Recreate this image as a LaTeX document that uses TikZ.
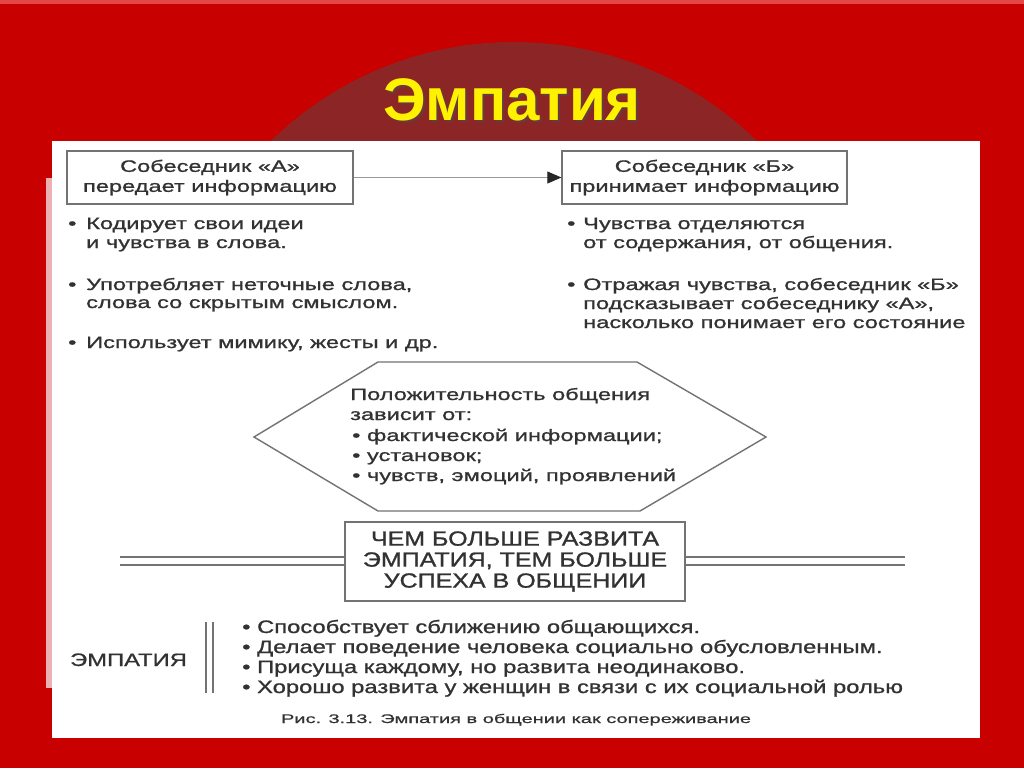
\documentclass[tikz,border=0pt]{standalone}
\usepackage{fontspec}
\setmainfont{Liberation Sans}
\newfontfamily\bodyf[FakeStretch=1.43,FakeBold=1]{Liberation Sans}
\newfontfamily\condf[FakeStretch=1.32,FakeBold=1]{Liberation Sans}
\newfontfamily\centf[FakeStretch=1.22,FakeBold=1.2]{Liberation Sans}
\newfontfamily\capf[FakeStretch=1.6,FakeBold=0.8]{Liberation Sans}
\usetikzlibrary{arrows.meta}
\definecolor{bgred}{RGB}{200,0,0}
\definecolor{topred}{RGB}{228,70,70}
\definecolor{darkc}{RGB}{140,38,38}
\definecolor{txt}{RGB}{50,50,50}
\definecolor{frame}{RGB}{115,115,115}
\definecolor{pinkstrip}{RGB}{236,178,178}
\begin{document}
\begin{tikzpicture}[x=1pt,y=-1pt,
  txtl/.style={anchor=base west, inner sep=0pt, text=txt, font=\bodyf\fontsize{16.5}{19}\selectfont},
  txtb/.style={anchor=base west, inner sep=0pt, text=txt, font=\condf\fontsize{18}{20}\selectfont},
  boxn/.style={draw=frame, line width=1.3pt, fill=white, align=center, inner sep=0pt, text=txt,
     font=\bodyf\fontsize{16.5}{20}\selectfont},
  bigbox/.style={draw=frame, line width=1.3pt, fill=white, align=center, inner sep=0pt, text=txt,
     font=\centf\fontsize{20.5}{21}\selectfont},
  frameline/.style={draw=frame, line width=1.4pt},
  dbl/.style={draw=frame, line width=1.5pt}
]
\useasboundingbox (0,0) rectangle (1024,768);
\fill[bgred] (0,0) rectangle (1024,768);
\fill[topred] (0,0) rectangle (1024,4);
\begin{scope}
  \clip (0,0) rectangle (1024,141);
  \fill[darkc] (514,390) circle[radius=348];
\end{scope}
% title
\node[text=black!70, opacity=0.6, font=\bfseries\fontsize{60}{64}\selectfont] (tsh) at (514,102) {Эмпатия};
\node[text=yellow, font=\bfseries\fontsize{60}{64}\selectfont] (title) at (512,100) {Эмпатия};
% panel
\fill[white] (52,141) rectangle (980,738);
\fill[pinkstrip] (46,178) rectangle (52,688);

% top boxes
\node[boxn, minimum width=286, minimum height=53] (A) at (210,177.5) {Собеседник «А»\\передает информацию};
\node[boxn, minimum width=285, minimum height=53] (B) at (704.5,177.5) {Собеседник «Б»\\принимает информацию};
\draw[draw=black!40, line width=0.8pt, -{Triangle[length=14pt,width=12pt,color=black!85]}] (A.east) -- (B.west);

% left bullets
\node[txtl] (la1) at (68,229) {•};
\node[txtl] (la2) at (86,229) {Кодирует свои идеи};
\node[txtl] (la3) at (86,248) {и чувства в слова.};
\node[txtl] (lb1) at (68,290) {•};
\node[txtl] (lb2) at (86,290) {Употребляет неточные слова,};
\node[txtl] (lb3) at (86,308) {слова со скрытым смыслом.};
\node[txtl] (lc1) at (68,348) {•};
\node[txtl] (lc2) at (86,348) {Использует мимику, жесты и др.};

% right bullets
\node[txtl] (ra1) at (567,229) {•};
\node[txtl] (ra2) at (583,229) {Чувства отделяются};
\node[txtl] (ra3) at (583,248) {от содержания, от общения.};
\node[txtl] (rb1) at (567,290) {•};
\node[txtl] (rb2) at (583,290) {Отражая чувства, собеседник «Б»};
\node[txtl] (rb3) at (583,309) {подсказывает собеседнику «А»,};
\node[txtl] (rb4) at (583,328) {насколько понимает его состояние};

% hexagon
\draw[frameline] (254,437) -- (378,362) -- (637,362) -- (766,437) -- (640,511) -- (378,511) -- cycle;
\node[txtl] (h1) at (350,400) {Положительность общения};
\node[txtl] (h2) at (350,420) {зависит от:};
\node[txtl] (h3) at (352,441) {• фактической информации;};
\node[txtl] (h4) at (352,461) {• установок;};
\node[txtl] (h5) at (352,481) {• чувств, эмоций, проявлений};

% centre box
\node[bigbox, minimum width=340, minimum height=79] (C) at (515,561.5) {ЧЕМ БОЛЬШЕ РАЗВИТА\\ЭМПАТИЯ, ТЕМ БОЛЬШЕ\\УСПЕХА В ОБЩЕНИИ};
\coordinate (L1) at (120,557);
\coordinate (L2) at (120,565);
\coordinate (R1) at (905,557);
\coordinate (R2) at (905,565);
\draw[dbl] (L1) -- (L1 -| C.west);
\draw[dbl] (L2) -- (L2 -| C.west);
\draw[dbl] (C.east |- R1) -- (R1);
\draw[dbl] (C.east |- R2) -- (R2);

% bottom
\node[txtb] (emp) at (70,666) {ЭМПАТИЯ};
\coordinate (V1t) at (206,622);
\coordinate (V1b) at (206,693);
\coordinate (V2t) at (213,622);
\coordinate (V2b) at (213,693);
\draw[dbl] (V1t) -- (V1b);
\draw[dbl] (V2t) -- (V2b);
\node[txtb] (b1) at (242,633) {• Способствует сближению общающихся.};
\node[txtb] (b2) at (242,653) {• Делает поведение человека социально обусловленным.};
\node[txtb] (b3) at (242,673) {• Присуща каждому, но развита неодинаково.};
\node[txtb] (b4) at (242,693) {• Хорошо развита у женщин в связи с их социальной ролью};

\node[anchor=base, inner sep=0pt, text=txt, font=\capf\fontsize{12.5}{14}\selectfont] (cap) at (516,723) {Рис. 3.13. Эмпатия в общении как сопереживание};
\end{tikzpicture}
\end{document}
